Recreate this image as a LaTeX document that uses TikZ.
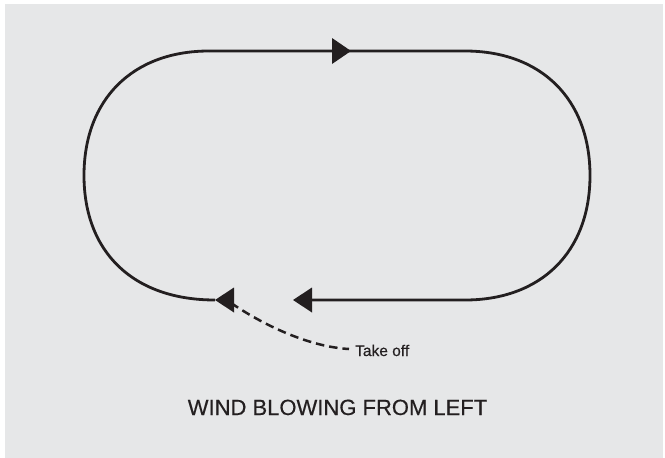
\documentclass[tikz,border=0pt]{standalone}
\usepackage{fontspec}
\setmainfont{Liberation Sans}[FakeBold=0.4]
\definecolor{bggray}{HTML}{E6E7E8}
\definecolor{ink}{HTML}{231F20}
\begin{document}
\begin{tikzpicture}[x=1pt,y=-1pt,
  track/.style={draw=ink,line width=2.8pt},
  tip/.style={fill=ink,draw=none},
  takeoff/.style={draw=ink,line width=2.5pt,dash pattern=on 8.5pt off 5pt},
  lbl/.style={text=ink,inner sep=0pt}]
\useasboundingbox (0,0) rectangle (665,458);
\fill[white] (0,0) rectangle (665,458);
\fill[bggray] (5,4) rectangle (663,458);
% named points of the circuit
\coordinate (tl) at (209,51);
\coordinate (tr) at (465,51);
\coordinate (br) at (465,300);
\coordinate (bl) at (215,300);
\coordinate (le) at (84,175.5);
\coordinate (re) at (590,175.5);
\coordinate (a2base) at (311,300);
\coordinate (a1base) at (233,300);
% circuit
\draw[track] (tl) -- (tr)
  .. controls (541,51) and (590,99) .. (re)
  .. controls (590,252) and (541,300) .. (br)
  -- (a2base);
\draw[track] (bl) .. controls (133,300) and (84,252) .. (le)
  .. controls (84,99) and (133,51) .. (tl);
% arrow heads
\fill[tip] (332,38) -- (351,51) -- (332,64) -- cycle;
\fill[tip] (312,287.5) -- (293,300) -- (312,312.5) -- cycle;
\fill[tip] (234,287.5) -- (215,300) -- (234,312.5) -- cycle;
% take off
\coordinate (tstart) at (231,303);
\coordinate (tend) at (349,349);
\draw[takeoff] (tstart) .. controls (268,328) and (312,347) .. (tend);
\node[lbl,anchor=base west,font=\fontsize{15.5}{18}\selectfont] (take) at (355,356) {Take off};
\node[lbl,anchor=base,font=\fontsize{22}{26}\selectfont] (wind) at (337.5,415) {WIND BLOWING FROM LEFT};
\end{tikzpicture}
\end{document}
